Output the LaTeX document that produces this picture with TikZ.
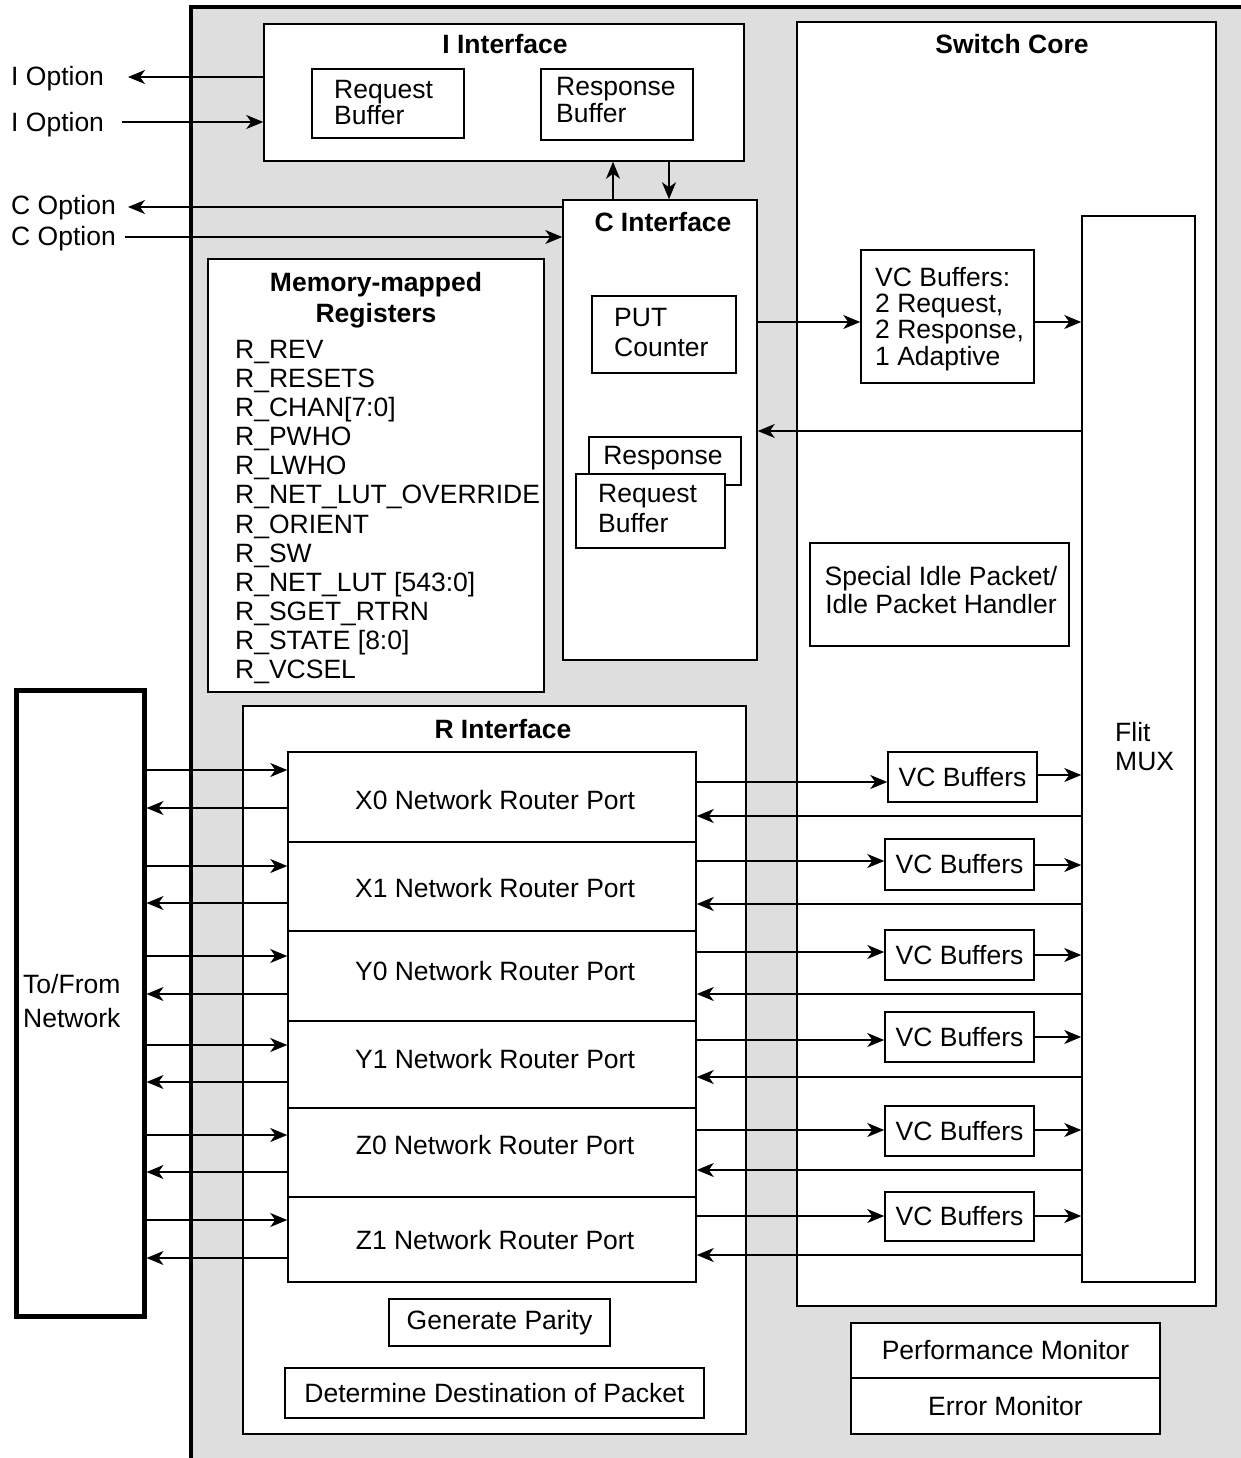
\documentclass[tikz,border=0pt]{standalone}
\usepackage{fontspec}
\setmainfont{Liberation Sans}
\usetikzlibrary{arrows.meta}
\definecolor{bg}{HTML}{DEDEDE}
\newcommand\fsz[1]{\fontsize{26.5}{#1}\selectfont}
\begin{document}
\begin{tikzpicture}[x=1pt,y=-1pt,
  box/.style={draw, fill=white, line width=1.5pt, inner sep=0pt, font=\fsz{29}},
  txt/.style={inner sep=0pt, font=\fsz{29}},
  ttl/.style={inner sep=0pt, font=\fsz{31}\bfseries},
  arr/.style={line width=1.4pt, -{Stealth[length=17pt,width=14pt,inset=5pt]}},
]
\useasboundingbox (0,0) rectangle (1241,1458);
\fill[white] (0,0) rectangle (1241,1458);
% gray enclosure
\fill[bg] (191,7) rectangle (1241,1458);
\draw[line width=4.5pt] (191,1458) -- (191,7) -- (1241,7);

% I Interface
\node[box, minimum width=480pt, minimum height=137pt] (iif) at (504,92.5) {};
\node[ttl] (iift) at (505,44) {I Interface};
\node[box, minimum width=152pt, minimum height=69pt] (rqb1) at (388,103.5) {};
\node[txt, align=left, anchor=west, font=\fsz{26}] (rqb1t) at (334,103) {Request\\Buffer};
\node[box, minimum width=152pt, minimum height=71pt] (rsb1) at (617,104.5) {};
\node[txt, align=left, anchor=west, font=\fsz{27}] (rsb1t) at (556,100.5) {Response\\Buffer};

% C Interface
\node[box, minimum width=194pt, minimum height=460pt] (cif) at (660,430) {};
\node[ttl] (cift) at (663,222) {C Interface};
\node[box, minimum width=144pt, minimum height=77pt] (put) at (664,334.5) {};
\node[txt, align=left, anchor=west, font=\fsz{30}] (putt) at (614,333) {PUT\\Counter};
\node[box, minimum width=152pt, minimum height=48pt] (rsb2) at (665,461) {};
\node[txt] (rsb2t) at (663,458) {Response};
\node[box, minimum width=149pt, minimum height=74pt] (rqb2) at (650.5,511) {};
\node[txt, align=left, anchor=west, font=\fsz{30}] (rqb2t) at (598,509) {Request\\Buffer};

% Memory-mapped registers
\node[box, minimum width=336pt, minimum height=433pt] (mmr) at (376,475.5) {};
\node[ttl, align=center] (mmrt) at (376,300) {Memory-mapped\\Registers};
\node[txt, align=left, anchor=west, font=\fsz{29.1}] (regs) at (235,512) {R\_REV\\R\_RESETS\\R\_CHAN[7:0]\\R\_PWHO\\R\_LWHO\\R\_NET\_LUT\_OVERRIDE\\R\_ORIENT\\R\_SW\\R\_NET\_LUT [543:0]\\R\_SGET\_RTRN\\R\_STATE [8:0]\\R\_VCSEL};

% Switch core
\node[box, minimum width=419pt, minimum height=1284pt] (sc) at (1006.5,664) {};
\node[ttl] (sct) at (1012,44) {Switch Core};
\node[box, minimum width=113pt, minimum height=1066pt] (mux) at (1138.5,749) {};
\node[txt, align=left, anchor=west] (muxt) at (1115,746.5) {Flit\\MUX};
\node[box, minimum width=173pt, minimum height=133pt] (vcb) at (947.5,316.5) {};
\node[txt, align=left, anchor=west, font=\fsz{26.3}] (vcbt) at (875,319) {VC Buffers:\\2 Request,\\2 Response,\\1 Adaptive};
\node[box, minimum width=259pt, minimum height=103pt] (idle) at (939.5,594.5) {};
\node[txt, align=center, font=\fsz{28}] (idlet) at (941,590) {Special Idle Packet/\\Idle Packet Handler};

\node[box, minimum width=149pt, minimum height=50pt] (vc1) at (962.5,777) {VC Buffers};
\node[box, minimum width=149pt, minimum height=51pt] (vc2) at (959.5,864.5) {VC Buffers};
\node[box, minimum width=149pt, minimum height=50pt] (vc3) at (959.5,955) {VC Buffers};
\node[box, minimum width=149pt, minimum height=50pt] (vc4) at (959.5,1037) {VC Buffers};
\node[box, minimum width=149pt, minimum height=50pt] (vc5) at (959.5,1131) {VC Buffers};
\node[box, minimum width=149pt, minimum height=49pt] (vc6) at (959.5,1216.5) {VC Buffers};

% R Interface
\node[box, minimum width=503pt, minimum height=728pt] (rif) at (494.5,1070) {};
\node[ttl] (rift) at (503,729) {R Interface};
\node[box, minimum width=408pt, minimum height=90pt] (x0) at (492,797) {};
\node[txt] (x0t) at (495,800) {X0 Network Router Port};
\node[box, minimum width=408pt, minimum height=89pt] (x1) at (492,886.5) {};
\node[txt] (x1t) at (495,888) {X1 Network Router Port};
\node[box, minimum width=408pt, minimum height=90pt] (y0) at (492,976) {};
\node[txt] (y0t) at (495,971) {Y0 Network Router Port};
\node[box, minimum width=408pt, minimum height=87pt] (y1) at (492,1064.5) {};
\node[txt] (y1t) at (495,1059) {Y1 Network Router Port};
\node[box, minimum width=408pt, minimum height=89pt] (z0) at (492,1152.5) {};
\node[txt] (z0t) at (495,1145) {Z0 Network Router Port};
\node[box, minimum width=408pt, minimum height=85pt] (z1) at (492,1239.5) {};
\node[txt] (z1t) at (495,1240) {Z1 Network Router Port};
\node[box, minimum width=221pt, minimum height=47pt] (par) at (499.5,1322.5) {Generate Parity};
\node[box, minimum width=419pt, minimum height=50pt] (dest) at (494.5,1393) {Determine Destination of Packet};

% Monitors
\node[box, minimum width=309pt, minimum height=55pt] (perf) at (1005.5,1350.5) {Performance Monitor};
\node[box, minimum width=309pt, minimum height=56pt] (err) at (1005.5,1406) {Error Monitor};

% Network
\node[draw, fill=white, line width=5pt, minimum width=128pt, minimum height=626pt] (net) at (80,1003) {};
\node[txt, align=left, anchor=west, font=\fsz{34}] (nett) at (23,1001) {To/From\\Network};

% Option labels
\node[txt, anchor=west] (io1t) at (11,79) {I Option};
\node[txt, anchor=west] (io2t) at (11,125) {I Option};
\node[txt, anchor=west] (co1t) at (11,208) {C Option};
\node[txt, anchor=west] (co2t) at (11,239) {C Option};
\coordinate (io1) at (128,77);
\coordinate (io2) at (122,122);
\coordinate (co1) at (128,207);
\coordinate (co2) at (125,237);

% connectors
\draw[arr] (iif.west |- io1) -- (io1);
\draw[arr] (io2) -- (iif.west |- io2);
\draw[arr] (cif.west |- co1) -- (co1);
\draw[arr] (co2) -- (cif.west |- co2);
\draw[arr] (cif.north -| 613,0) -- (iif.south -| 613,0);
\draw[arr] (iif.south -| 669,0) -- (cif.north -| 669,0);
\draw[arr] (cif.east |- 0,322) -- (vcb.west |- 0,322);
\draw[arr] (vcb.east |- 0,322) -- (mux.west |- 0,322);
\draw[arr] (mux.west |- 0,431) -- (cif.east |- 0,431);

\foreach \p/\v/\yi/\yo/\yr/\li/\lo in {
  x0/vc1/782/775/816/770/808,
  x1/vc2/861/865/904/866/903,
  y0/vc3/952/955/994/956/994,
  y1/vc4/1040/1037/1077/1045/1082,
  z0/vc5/1130/1130/1170/1135/1172,
  z1/vc6/1216/1216/1255/1220/1258}{
  \draw[arr] (\p.east |- 0,\yi) -- (\v.west |- 0,\yi);
  \draw[arr] (\v.east |- 0,\yo) -- (mux.west |- 0,\yo);
  \draw[arr] (mux.west |- 0,\yr) -- (\p.east |- 0,\yr);
  \draw[arr] (net.east |- 0,\li) -- (\p.west |- 0,\li);
  \draw[arr] (\p.west |- 0,\lo) -- (net.east |- 0,\lo);
}
\end{tikzpicture}
\end{document}
